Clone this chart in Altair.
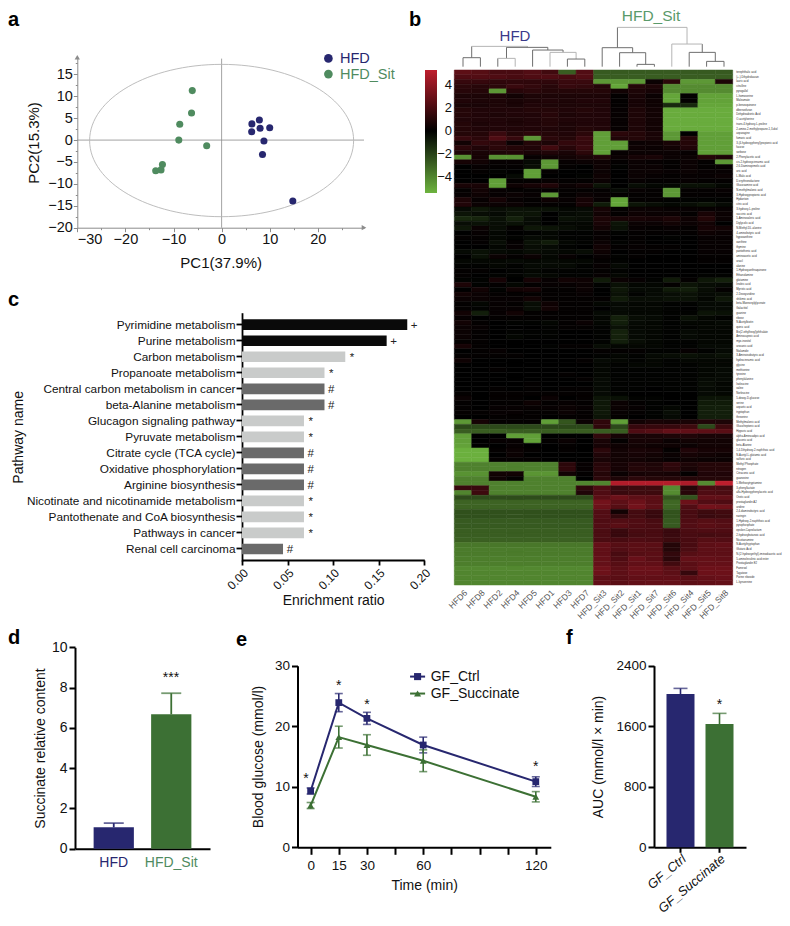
import altair as alt
import pandas as pd

FONT = "Liberation Sans"
NAVY = "#27276f"
GREEN_D = "#3c7034"
W, H = 774, 910

# ---------- panel a ----------
A_HFD_X = [6.3, 7.85, 8.0, 10.0, 6.25, 8.8, 8.5, 14.8]
A_HFD_Y = [3.7, 4.6, 2.7, 2.8, 1.9, -0.2, -3.3, -13.9]
A_SIT_X = [-6.1, -6.25, -8.7, -8.9, -3.1, -12.3, -12.6, -13.7]
A_SIT_Y = [11.3, 6.2, 3.6, 0.0, -1.3, -5.6, -6.8, -7.0]

# ---------- panel b ----------
COLS = ["HFD6", "HFD8", "HFD2", "HFD4", "HFD5", "HFD1", "HFD3", "HFD7",
        "HFD_Sit3", "HFD_Sit2", "HFD_Sit1", "HFD_Sit7", "HFD_Sit6", "HFD_Sit4", "HFD_Sit5", "HFD_Sit8"]
BAR_TICKS = [-4, -2, 0, 2, 4]
ROWS = ["terephthalic acid", "(+-)-Dihydrokavain", "lauric acid", "citrulline", "pyrogallol", "L-homoserine",
        "Maleamate", "p-benzoquinone", "dibenzofuran", "Dehydroabietic Acid", "O-acetylserine",
        "trans-4-hydroxy-L-proline", "2-amino-2-methylpropane-1,3-diol", "asparagine", "fumaric acid",
        "3-(4-hydroxyphenyl)propionic acid", "fucose", "sorbose", "2-Phenylacetic acid",
        "cis-2-hydroxycinnamic acid", "2,6-Diaminopimelic acid", "uric acid", "L-Malic acid",
        "D-erythronolactone", "Glucosamine acid", "N-methylmalonic acid", "3-Hydroxypropionic acid",
        "Hydantoin", "citric acid", "3-hydroxy-L-proline", "succinic acid", "5-Aminovaleric acid",
        "Diglycolic acid", "N-Methyl-DL-alanine", "4-aminobutyric acid", "hypoxanthine", "xanthine", "thymine",
        "pantothenic acid", "aminoacetic acid", "uracil", "alanine", "1-Hydroxyanthraquinone", "Ethanolamine",
        "glutamine", "linoleic acid", "Myristic acid", "2-Deoxyuridine", "shikimic acid",
        "beta-Mannosylglycerate", "Galactitol", "guanine", "ribose", "N-Acetylbiotin", "quinic acid",
        "Bis(2-ethylhexyl)phthalate", "Aminocaproic acid", "myo-inositol", "urocanic acid", "Nialamide",
        "3-Aminoisobutyric acid", "hydrocinnamic acid", "glycine", "methionine", "tyrosine", "phenylalanine",
        "Isoleucine", "valine", "Norleucine", "5-deoxy-D-glucose", "serine", "aspartic acid", "tryptophan",
        "threonine", "Methylmalonic acid", "Glucoheptonic acid", "Hippuric acid", "alpha-Aminoadipic acid",
        "gluconic acid", "beta-Alanine", "1,4-Dihydroxy-2-naphthoic acid", "N-Acetyl-L-glutamic acid",
        "sulfuric acid", "Methyl Phosphate", "nitrogen", "Citraconic acid", "guanosine", "5-Methoxytryptamine",
        "3-phenyllactate", "alfa-Hydroxyphenylacetic acid", "Orotic acid", "prostaglandin A2", "uridine",
        "2,4-diaminobutyric acid", "naringin", "1-Hydroxy-2-naphthoic acid", "pyrophosphate",
        "epsilon-Caprolactam", "2-hydroxybutanoic acid", "Nicotianamine", "N-Acetyltryptophan", "Glutaric Acid",
        "N-(2-hydroxyethyl)-iminodiacetic acid", "5-aminolevulinic acid ester", "Prostaglandin E2", "Farnesol",
        "Tagatose", "Purine riboside", "L-kynurenine"]
HEAT = [
    [2.6, 2.4, 2, 2, 2.3, 1.8, -2.8, 2.3, -2.7, -2.7, -2.7, -2.7, -2.7, -2.7, -2.7, -2.7],
    [2.2, 2.3, 2.2, 2, 2.2, 2.2, 2, 2.3, -2.8, -2.8, -2.8, -2.8, -2.8, -2.8, -2.8, -2.8],
    [1.5, 1.5, 1.3, 1.3, 1.3, 1.3, 1.6, 1.6, -4.6, -4.6, -4.6, 0.3, 1.2, -4.6, -4.6, 0.8],
    [1.2, 1.1, 1.2, 1.6, 1.4, 1.1, 1.5, 1.4, 1, -5, 1, 0.8, -4.2, -4.2, -4.2, -4.2],
    [1.1, 1, -4.6, 1.1, 1.2, 1, 1, 1, 1, 0.5, 0.8, 0.6, -4.2, -4.2, -4.2, -4.2],
    [0.8, 0.8, 0.8, 0.5, 0.8, 0.8, 0.8, 0.8, 0.8, 0.1, 0.7, 0.3, -5, 0.1, -4.9, -4.9],
    [0.9, 0.8, 0.8, 0.7, 0.8, 0.9, 0.8, 0.9, 0.9, 0.1, 0.6, 0.4, -5, 0.1, -4.9, -4.9],
    [0.7, 0.7, 0.8, 0.7, 0.9, 0.8, 0.8, 0.8, 0.8, 0.1, 0.6, 0.4, -1.2, -1.2, -5, -5],
    [1, 0.9, 0.9, 0.9, 1, 1, 0.9, 1, 0.9, 0.2, 0.8, 0.5, -5.2, -5.2, -5.2, -5.2],
    [1, 0.9, 0.8, 0.9, 0.9, 1.1, 0.8, 0.9, 0.9, 0.2, 0.8, 0.5, -5.2, -5.2, -5.2, -5.2],
    [0.9, 0.9, 0.9, 0.8, 0.9, 1, 0.9, 0.9, 0.9, 0.2, 0.8, 0.5, -5.2, -5.2, -5.2, -5.2],
    [1, 0.8, 0.9, 0.8, 0.9, 1, 0.8, 0.9, 0.9, 0.2, 0.8, 0.5, -5.2, -5.2, -5.2, -5.2],
    [1, 0.9, 0.9, 0.9, 0.9, 0.9, 0.8, 1, 0.9, 0.2, 0.8, 0.5, -5.2, -5.2, -5.2, -5.2],
    [1, 1, 1.6, 1, 1.2, 1, 0.9, 1.2, -4.8, 1.2, 1, 0.7, -4.6, 0, -4.8, -4.8],
    [1.5, 1.2, 2.2, 1.5, -4.6, 1.2, 1, 1.6, -4.8, 0.9, 1, 0.7, -4.6, 1, -4.8, -4.8],
    [0.5, 1.4, 1.2, 0.3, 1, 0.8, 1.4, 1.5, -4.8, -4.8, 0.3, 0.4, 0.7, 1, -4.8, -4.8],
    [1.2, 0.9, 1.2, 1, 0.9, 1.8, 1.1, 1.6, -4.8, -4.8, 0.4, 0.3, 0.5, 0.9, -4.8, -4.8],
    [0.8, 0.7, 0.8, 0.9, 0.7, 0.9, 0.7, 1.2, -4.8, 0.2, 0.3, 0.3, 0.3, 0.2, -4.8, -4.8],
    [-4.4, 0.6, -4.4, -4.4, 0.2, 0.4, 0.5, 0.7, 0.9, 0.3, 0.6, 0.7, 0.3, 0.3, 1, 0.8],
    [0.6, 0.5, 0.2, 0.2, -0.3, -4.6, 0.2, 0.3, 0.4, 0.1, 0.3, 0.2, 0.1, 0.3, 0.1, -4.6],
    [0, 0.2, 0.1, 0.1, -0.4, -4.6, 0.1, 0, 0.4, -0.1, 0.3, 0.3, 0.1, 0.3, 0.1, 0.2],
    [0, 0.1, -0.1, 0, -4.8, 0.1, 0, 0, 0.3, 0, 0.3, 0.3, 0.2, 0.3, 0.2, 0.2],
    [0, 0, 0, -0.3, -4.8, 0, 0, -0.1, 0.4, 0, 0.3, 0.2, 0.1, 0.2, 0.2, 0.3],
    [0, 0, -4.8, 0.1, 0.1, 0.2, 0.1, 0.1, 0.3, 0, 0.2, 0.1, 0.1, 0.2, 0.1, 0.1],
    [0.7, 0.7, -4.8, 0.4, 0.6, 0.9, 0.3, 0.5, -0.6, 0, -0.4, -0.2, -0.2, -0.5, -0.5, -0.2],
    [0.1, 0.5, 0.2, 0.1, 0.1, 0.1, 0.1, 0.1, 0.1, -0.3, 0.2, 0.1, -4.6, 0.1, 0.1, 0.2],
    [0.2, 0.4, 0.2, 0.3, 0.2, -4.6, 0.1, 0.3, 0.2, 0.1, 0.1, 0.1, -4.6, 0.1, 0.1, 0.1],
    [0.8, 0.2, 0.6, 0.2, 0.1, 0.4, 0.2, 0.6, 0.2, -5, 0.1, 0.1, -0.1, -0.1, -0.1, -0.1],
    [0.9, 0.3, 0.3, 0.3, 0.1, 0.1, 0.1, 0.6, -0.8, -5, -0.6, -0.4, -0.2, -0.4, -0.6, -0.3],
    [-0.3, -0.7, -0.4, -0.5, -0.5, -0.5, -0.2, -0.3, 0.6, 0.1, 0.3, 0.3, 0.2, 0.2, 0.2, 0.2],
    [-0.6, -0.4, -0.3, -0.6, -0.6, 0, -0.3, -0.4, 0.5, 0.1, 0.4, 0.3, 0.3, 0.1, 0.7, 0.3],
    [-1.2, -1.1, -0.5, -1, -0.4, 0, -0.5, -0.4, 0.8, 0.7, 0.7, 0.6, 0.8, 0.4, 1, 0.3],
    [-0.4, -0.5, -0.4, -0.5, -0.3, 0, -0.2, -0.2, 0.7, -0.6, 0.3, 0.3, 0.5, 0.3, 0.5, 0],
    [-0.7, 0.3, -0.4, 0.1, -0.7, -0.6, -0.4, -0.2, 0.5, -0.5, 0.2, 0.1, 0.2, 0.1, 0.6, 0.5],
    [0, 0.2, -0.2, 0, -0.1, -0.2, -0.1, -0.1, 0.2, -0.1, 0.1, 0.1, 0.1, 0.1, 0.4, 0.3],
    [0.1, 0.1, -0.2, -0.1, -0.3, -0.2, -0.1, -0.1, 0.2, 0, 0.1, 0, -0.1, 0, 0.2, 0.2],
    [0, 0.1, -0.4, 0.1, -0.5, -0.8, -0.2, -0.1, 0.3, -0.1, 0.1, 0, 0, 0, 0.2, 0.2],
    [0, 0, -0.2, 0.2, -0.4, -0.3, -0.1, 0, 0.5, 0.1, 0.2, 0.1, 0.1, 0, 0.2, 0.2],
    [-0.3, -0.5, -0.3, -0.2, -0.4, -0.3, -0.2, -0.4, 0.4, 0, 0.1, 0.1, 0, 0, 0.2, 0.2],
    [0, -0.5, 0.3, 0.1, 0.3, -0.2, 0.2, 0, 0.2, -0.1, 0.1, 0, 0, 0, 0.1, 0.1],
    [-0.2, -0.2, -0.2, -0.3, -0.2, -0.3, -0.2, -0.2, 0.1, -0.1, 0, 0, 0, 0, 0.1, 0.1],
    [-0.1, -0.1, -0.2, -0.1, -0.3, -0.3, -0.3, -0.1, 0.2, -0.3, 0, 0, 0, 0, 0, 0],
    [0.1, 0.1, 0, -0.1, -0.2, -0.1, -0.1, -0.1, 0.1, -0.1, 0, 0, 0, 0, 0, 0],
    [0.1, 0, -0.1, -0.1, -0.3, -0.2, -0.1, -0.1, 0.2, -0.2, 0, 0, 0, 0, -0.1, -0.1],
    [-0.1, -0.1, 0.6, 0, 0.6, 0.2, 0.5, 0.4, -0.8, 0.3, 0.2, -0.1, -0.8, 0.1, -0.7, -1],
    [0.8, -0.1, 0.1, -0.2, 0.1, 0.2, 0.2, 0.3, -0.1, -0.5, -0.2, -0.2, 0.1, -0.6, -0.4, -0.3],
    [0, 0.5, -0.1, 0.5, 0.6, 0.1, 0.1, 0.3, 0, -0.7, -0.3, -0.3, -0.8, -0.9, -0.4, 0.1],
    [0.5, 0.3, 0.1, 0.1, 0.1, 0.1, 0.1, 0.2, 0, -0.5, -0.1, -0.3, -0.4, -0.5, -0.3, -0.4],
    [0.3, 0.3, 0.2, 0.2, 0.5, 0.1, 0.1, 0.1, 0.1, -0.8, -0.4, -0.4, -0.5, -0.5, -0.2, -0.7],
    [0.1, -0.2, 0.2, 0.1, -0.4, 0.4, 0.1, 0.1, -0.2, -0.3, -0.2, -0.2, -0.1, -0.1, -0.3, -0.3],
    [0.1, -0.1, 0.2, 0.2, -0.4, 0.5, 0.1, 0.1, 0, -0.3, -0.2, -0.2, -0.1, 0, -0.3, -0.3],
    [0.5, -0.9, 0.2, 0.5, 0.1, 0.1, 0.1, 0.1, -0.3, -0.3, -0.2, -0.2, -0.1, -0.1, -0.6, -0.5],
    [0.2, 0, 0.1, 0.1, 0.1, 0.1, 0.1, 0.1, -0.2, -1, -0.4, -0.3, -0.1, -0.5, -0.2, -0.1],
    [0.5, 0.1, 0, -0.1, -0.1, -0.2, 0.1, 0.3, -0.2, -0.9, -0.3, -0.2, -0.1, -0.2, -0.2, -0.3],
    [0.3, 0.2, 0, 0, 0, -0.1, 0.1, 0.1, -0.1, -0.5, -0.2, -0.2, -0.1, -0.1, -0.2, -0.2],
    [0.3, 0.1, 0, -0.1, -0.1, -0.1, 0, 0, -0.1, -1, -0.3, -0.2, -0.1, -0.3, -0.2, -0.2],
    [0.3, 0.1, 0, -0.2, -0.1, -0.1, 0, 0, -0.1, -1, -0.3, -0.2, -0.1, -0.3, -0.2, -0.2],
    [0.1, 0.1, 0, 0, 0, 0, 0, 0, -0.1, -0.9, -0.4, -0.2, -0.1, -0.1, -0.2, -0.2],
    [0.6, 0.1, 0, 0, 0, -0.1, 0.1, 0.1, -0.4, -0.2, -0.2, -0.2, -0.1, -0.1, -0.3, -0.3],
    [0, 0.1, 0.2, 0, 0, 0, 0, 0, 0.1, 0.1, 0.1, -0.1, -0.1, 0.2, -0.1, -0.3],
    [0.1, 0.1, 0.1, 0.1, 0, 0, 0, 0, -0.1, -0.2, -0.1, -0.3, -0.4, -0.5, -0.4, -0.5],
    [0.4, 0, 0, 0, 0, 0, 0, 0.1, -0.3, -0.2, -0.1, -0.2, -0.1, -0.2, -0.2, -0.2],
    [0, 0, 0, 0, 0, 0, 0, 0, -0.2, -0.1, -0.2, -0.2, -0.1, -0.1, -0.2, -0.2],
    [0, 0, 0.1, 0, 0, 0, 0, 0, -0.2, -0.1, -0.1, -0.1, -0.1, -0.1, -0.2, -0.3],
    [0, 0, 0, 0, 0, 0, 0.1, 0, -0.2, -0.1, -0.1, -0.1, -0.1, -0.1, -0.2, -0.3],
    [0, 0, 0, 0, 0, 0, 0, 0.1, -0.3, -0.1, -0.1, -0.1, -0.1, -0.1, -0.3, -0.3],
    [0, 0, 0, 0, 0.1, 0, 0, 0, -0.3, -0.1, -0.1, -0.1, -0.1, -0.1, -0.4, -0.2],
    [0, 0, 0.1, 0, 0.1, 0, 0.1, 0.1, -0.3, -0.1, -0.1, 0, -0.1, -0.1, -0.3, -0.2],
    [0.1, 0, 0.1, 0.1, 0.1, 0.1, 0.1, 0.1, -0.3, -0.1, 0, 0, 0, 0, -0.3, -0.2],
    [0.3, 0, 0.1, 0.1, 0, 0.3, 0, 0.1, -0.6, -0.5, -0.1, -0.1, 0, 0, -0.6, -0.6],
    [0.1, 0, 0.1, 0.1, 0.4, 0.1, 0.2, 0.1, -0.7, 0.3, 0.1, -0.1, 0, 0, -0.8, -0.8],
    [0.1, 0, 0.2, 0.2, 0.2, 0.2, 0.3, 0.2, -0.7, 0.3, 0.2, -0.1, -0.2, 0, -0.9, -0.9],
    [0.1, 0.1, 0.2, 0.2, 0.1, 0.1, 0.3, 0.1, -0.7, 0.2, 0.1, -0.1, -0.4, 0, -0.9, -0.9],
    [0, 0, 0.1, 0.1, 0.1, 0, 0.1, 0.1, -0.6, 0.1, 0, -0.1, -0.3, 0, -0.9, -0.9],
    [-4.6, 0.6, 0.1, 0.1, 0.1, -4.8, -2.6, 0.3, 1.3, -4.8, 0.5, 0.7, 0.6, 0.7, 0.9, 0.8],
    [-2.2, -2.2, -2.2, -2.2, -2.2, -2.2, -2.2, -2.2, 1.3, -2.2, 1.5, 1.5, 1.5, 1.7, -2.2, 1.7],
    [-2.8, -2.8, -2.8, -2.8, -2.8, -2.8, -2.8, -2.8, -2.8, -2.8, 2.2, 2.4, 2.8, 2.7, 2.6, 2.5],
    [-4.8, 0, 0, -4.8, -4.8, 0, 0, 0, 1.4, 0.6, 0.7, 0.7, 0.8, 0.9, 0.7, 0.7],
    [-4.8, 0, 0.2, 0.2, -4.9, 0.1, 0.3, 0, 0.7, 0.1, 0.6, 0.6, 0.3, 0.5, 0.5, 0.5],
    [-4.9, 0, 0, 0.2, 0, 0, 0.1, 0, 0.6, 0.4, 0.5, 0.4, 0.4, 0.3, 0.5, 0.5],
    [-5.3, -5.3, 0.1, 0.3, 0.1, 0, 0.1, 0, 1.2, 0.5, 0.7, 0.6, 0.1, 0.9, 0.6, 0.6],
    [-5.3, -5.3, 0, 0.3, 0, 0, 0, 0, 0.9, 0.5, 0.6, 0.5, 0.3, 0.6, 0.5, 0.4],
    [-5.3, -5.3, 0.1, 0.1, 0.1, 0, 0, 0, 0.7, 0.5, 0.5, 0.4, 0.2, 0.4, 0.3, 0.3],
    [-3.9, -3.9, -3.9, -3.9, -3.9, -3.9, 1.2, 0.2, 1.1, 0.6, 0.9, 0.8, 1.3, 0.8, 1, 1],
    [-3.9, -3.9, -3.9, -3.9, -3.9, -3.9, 1.3, 0.2, 1.2, 0.6, 1, 0.9, 1.2, 0.7, 1, 1],
    [-4.4, -4.4, 0.5, 0.5, -4.5, -4.5, 0.5, 0.1, 1, 0.3, 0.6, 0.7, 0.6, 0.1, 0.9, 0.9],
    [-3.9, -3.9, 0.4, 0.1, -3.9, -3.9, -3.9, 0, 1.2, 0.8, 1.2, 1, 1, 1, 1, 1],
    [-3.9, -3.9, -3.9, -3.9, -3.9, -3.9, -3.9, -4, -4, 5, 5, 5, 5, 4.8, -4.2, 5.3],
    [1.6, 1.6, -3.9, -3.9, -3.9, -3.9, -3.9, 1.3, 2.2, 1.6, 1.7, 1.7, -4.2, 1, 2, 2],
    [-4, 1.7, -3.9, -3.9, -3.9, -3.9, -3.9, 0.9, 2.2, 1.6, 1.7, 1.7, -4.2, 1.1, 2.2, 2.1],
    [-2.3, -2.3, -2.3, -2.3, -2.3, -2.3, -2.3, -2.3, 2.5, 3, 2.6, 2.5, -2.6, -2.5, 2.7, 2.7],
    [-3, -3, -3, -3, -3, -3, -3, -3, 3.2, 2.6, 3, 2.5, -3.1, 3, 2.3, 2.2],
    [-3, -3, -3, -3, -3, -3, -3, -3, 3, 2.4, 3.2, 2.6, -3.1, 2.3, 3.2, 3.1],
    [-2.4, -2.4, -2.4, -2.4, -2.4, -2.4, -2.4, -2.4, 2.3, 0.5, 1.9, 1.6, -2.5, 2, 1.7, 1.8],
    [-2.4, -2.4, -2.4, -2.4, -2.4, -2.4, -2.4, -2.4, 2.3, 1.4, 1.9, 1.5, -2.5, 2, 1.6, 1.7],
    [-2.7, -2.7, -2.7, -2.7, -2.7, -2.7, -2.7, -2.7, 2.2, 2.3, 2.2, 2, -2.7, 2.2, 2.4, 2.3],
    [-2.7, -2.7, -2.7, -2.7, -2.7, -2.7, -2.7, -2.7, 2.3, 2.5, 2.2, 2.1, -2.7, 2.3, 2.5, 2.4],
    [-2.8, -2.8, -2.8, -2.8, -2.8, -2.8, -2.8, -2.8, 2.1, 1.6, 2, 2, 1.6, 2.1, 2.2, 2.2],
    [-2.8, -2.8, -2.8, -2.8, -2.8, -2.8, -2.8, -2.8, 2.1, 1.5, 1.9, 2, 1.6, 2, 1.9, 2],
    [-2.9, -2.9, -2.9, -2.9, -2.9, -2.9, -2.9, -2.9, 2.1, 2, 2.2, 2.1, 1.7, 2, 2.4, 2.3],
    [-3.6, -3.6, -3.6, -3.6, -3.6, -3.6, -3.6, -3.6, 2.8, 2.4, 2.5, 2.5, 1, 2, 2.6, 2.7],
    [-3.7, -3.7, -3.7, -3.7, -3.7, -3.7, -3.7, -3.7, 2.7, 2.3, 2.5, 2.4, 1, 2.1, 2.6, 2.6],
    [-3.7, -3.7, -3.7, -3.7, -3.7, -3.7, -3.7, -3.7, 2.7, 2, 2.4, 2.5, 1.4, 2.4, 2.6, 2.6],
    [-3.8, -3.8, -3.8, -3.8, -3.8, -3.8, -3.8, -3.8, 2.8, 2.2, 2.9, 2.5, 1.2, 2.8, 2.8, 2.7],
    [-3.8, -3.8, -3.8, -3.8, -3.8, -3.8, -3.8, -3.8, 2.8, 2.4, 2.7, 2.7, 1.8, 2.5, 2.8, 2.8],
    [-4.1, -4.1, -4.1, -4.1, -4.1, -4.1, -4.1, -4.1, 3.1, 2.6, 3, 3, 2.5, 2.6, 3, 3],
    [-4, -4, -4, -4, -4, -4, -4, -4, 3, 2.6, 2.9, 2.9, 2.6, 1.5, 3, 3],
    [-4, -4, -4, -4, -4, -4, -4, -4, 2.6, 2.5, 2.7, 2.7, 2.7, 2.5, 2.8, 2.9],
    [-4, -4, -4, -4, -4, -4, -4, -4, 2.7, 2.5, 2.7, 2.8, 2.8, 2.6, 2.7, 2.8],
]
# dendrogram: horizontal joins (column units, height) and vertical legs
DEN_H = [(0.5, 1.5, 27, "d"), (2.5, 3.5, 25, "l"), (6.5, 7.5, 23, "d"), (5.5, 7, 43, "l"), (4.5, 6.25, 50, "d"),
         (3, 5.375, 58, "d"), (1, 4.19, 61, "l"), (10.5, 11.5, 7, "d"), (9.5, 11, 42, "d"), (8.5, 10.25, 57, "d"),
         (14.5, 15.5, 16, "d"), (13.5, 15, 43, "d"), (12.5, 14.25, 68, "l"), (9.375, 13.375, 118, "l")]
DEN_V = [(0.5, 0, 27, "d"), (1.5, 0, 27, "d"), (2.5, 0, 25, "d"), (3.5, 0, 25, "l"), (6.5, 0, 23, "d"), (7.5, 0, 23, "d"),
         (5.5, 0, 43, "l"), (7, 23, 43, "l"), (4.5, 0, 50, "d"), (6.25, 43, 50, "d"), (3, 25, 58, "d"), (5.375, 50, 58, "d"),
         (1, 27, 61, "d"), (4.19, 58, 61, "d"), (10.5, 0, 7, "d"), (11.5, 0, 7, "d"), (9.5, 0, 42, "d"), (11, 7, 42, "d"),
         (8.5, 0, 57, "d"), (10.25, 42, 57, "d"), (14.5, 0, 16, "d"), (15.5, 0, 16, "d"), (13.5, 0, 43, "d"), (15, 16, 43, "d"),
         (12.5, 0, 68, "l"), (14.25, 43, 68, "d"), (9.375, 57, 118, "d"), (13.375, 68, 118, "l")]

# ---------- panel c ----------
PATHWAYS = ["Pyrimidine metabolism", "Purine metabolism", "Carbon metabolism", "Propanoate metabolism",
            "Central carbon metabolism in cancer", "beta-Alanine metabolism", "Glucagon signaling pathway",
            "Pyruvate metabolism", "Citrate cycle (TCA cycle)", "Oxidative phosphorylation", "Arginine biosynthesis",
            "Nicotinate and nicotinamide metabolism", "Pantothenate and CoA biosynthesis", "Pathways in cancer",
            "Renal cell carcinoma"]
RATIO = [0.1813, 0.1587, 0.1133, 0.0905, 0.0905, 0.0905, 0.068, 0.068, 0.068, 0.068, 0.068, 0.068, 0.068, 0.068, 0.045]
MARK = ["+", "+", "*", "*", "#", "#", "*", "*", "#", "#", "#", "*", "*", "*", "#"]

# ---------- panel d ----------
D_GROUPS = ["HFD", "HFD_Sit"]
D_MEAN = [1.06, 6.67]
D_TOP = [1.27, 7.72]

# ---------- panel e ----------
E_T = [0, 15, 30, 60, 120]
E_CTRL = [9.3, 23.9, 21.3, 16.9, 10.85]
E_CTRL_ERR = [0.5, 1.5, 1.0, 1.3, 0.8]
E_SUCC = [6.9, 18.2, 16.9, 14.3, 8.35]
E_SUCC_ERR = [0.5, 1.8, 1.7, 1.8, 0.85]
E_STAR_T = [-2.5, 15, 30, 120]
E_STAR_Y = [11.7, 27.2, 24.0, 13.7]

# ---------- panel f ----------
F_GROUPS = ["GF_Ctrl", "GF_Succinate"]
F_MEAN = [2025, 1629]
F_TOP = [2100, 1770]


def X(v):
    return v - 8


def lin(dom, r0, r1):
    return alt.Scale(domain=dom, range=[r0 - 8, r1 - 8], nice=False, zero=False)


def off_left(x):
    return -(x - 8)


def off_bottom(y):
    return (y - 8) - H


def text(s, x, y, size=14, color="black", align="center", weight="normal", angle=None, baseline="middle"):
    kw = dict(text=s, fontSize=size, color=color, align=align, fontWeight=weight, baseline=baseline, font=FONT)
    if angle is not None:
        kw["angle"] = angle
    return alt.Chart(alt.Data(values=[{"a": 1}])).mark_text(**kw).encode(x=alt.value(X(x)), y=alt.value(y - 8))


layers = []

# ===== Panel a =====
ax_sx = [-30, 29.6]
ay_sy = [-20, 18.9]
asx = lin(ax_sx, 77.3, 364)
asy = lin(ay_sy, 227.7, 57.3)
GREY = "#8c8c8c"
a_h = pd.DataFrame({"x": [-30], "x2": [29.6], "y": [0]})
a_v = pd.DataFrame({"x": [0], "y": [-20], "y2": [18.6]})
layers.append(alt.Chart(a_h).mark_rule(color=GREY, strokeWidth=0.8).encode(
    x=alt.X("x:Q", scale=asx, axis=None), x2="x2:Q", y=alt.Y("y:Q", scale=asy, axis=None)))
layers.append(alt.Chart(a_v).mark_rule(color=GREY, strokeWidth=0.8).encode(
    x=alt.X("x:Q", scale=asx, axis=None), y=alt.Y("y:Q", scale=asy, axis=None), y2="y2:Q"))
# axes
layers.append(alt.Chart(pd.DataFrame({"x": [0], "y": [0]})).mark_point(opacity=0).encode(
    x=alt.X("x:Q", scale=asx, axis=alt.Axis(orient="bottom", offset=off_bottom(227.7), values=[-30, -20, -10, 0, 10, 20],
            title="PC1(37.9%)", titleFontSize=15, titleFontWeight="normal", labelFontSize=14.5, grid=False,
            domainColor=GREY, tickColor=GREY, tickSize=4, labelPadding=1, titlePadding=9, titleColor="#111", labelColor="#111",
            format="d")),
    y=alt.Y("y:Q", scale=asy, axis=alt.Axis(orient="left", offset=off_left(77.3), values=[-20, -15, -10, -5, 0, 5, 10, 15],
            title="PC2(15.3%)", titleFontSize=15, titleFontWeight="normal", labelFontSize=14.5, grid=False,
            domainColor=GREY, tickColor=GREY, tickSize=4, labelPadding=1, titlePadding=6, titleColor="#111", labelColor="#111",
            format="d"))))
# minor ticks
layers.append(alt.Chart(pd.DataFrame({"x": [0], "y": [0]})).mark_point(opacity=0).encode(
    x=alt.X("x:Q", scale=asx, axis=alt.Axis(orient="bottom", offset=off_bottom(227.7), values=[-25, -15, -5, 5, 15, 25],
            title=None, labels=False, domain=False, tickColor=GREY, tickSize=2, grid=False)),
    y=alt.Y("y:Q", scale=asy, axis=alt.Axis(orient="left", offset=off_left(77.3),
            values=[-17.5, -12.5, -7.5, -2.5, 2.5, 7.5, 12.5, 17.5],
            title=None, labels=False, domain=False, tickColor=GREY, tickSize=2, grid=False))))
# axis arrows
layers.append(alt.Chart(pd.DataFrame({"x": [29.6], "y": [-20]})).mark_point(
    shape="triangle-right", filled=True, color=GREY, size=28, opacity=1).encode(
    x=alt.X("x:Q", scale=asx, axis=None), y=alt.Y("y:Q", scale=asy, axis=None)))
layers.append(alt.Chart(pd.DataFrame({"x": [-30], "y": [18.9]})).mark_point(
    shape="triangle-up", filled=True, color=GREY, size=28, opacity=1).encode(
    x=alt.X("x:Q", scale=asx, axis=None), y=alt.Y("y:Q", scale=asy, axis=None)))
# confidence ellipse
layers.append(alt.Chart(pd.DataFrame({"x": [0], "y": [-0.1]})).mark_point(
    shape="M-1,0A1,0.577 0 1,1 1,0A1,0.577 0 1,1 -1,0Z", filled=False, stroke="#b5b5b5", strokeWidth=0.9,
    size=69696, opacity=1).encode(
    x=alt.X("x:Q", scale=asx, axis=None), y=alt.Y("y:Q", scale=asy, axis=None)))
for xs, ys, c in [(A_HFD_X, A_HFD_Y, "#27276f"), (A_SIT_X, A_SIT_Y, "#4f8b5f")]:
    layers.append(alt.Chart(pd.DataFrame({"x": xs, "y": ys})).mark_circle(color=c, size=50, opacity=1).encode(
        x=alt.X("x:Q", scale=asx, axis=None), y=alt.Y("y:Q", scale=asy, axis=None)))
layers.append(alt.Chart(pd.DataFrame({"x": [22.2], "y": [18.65]})).mark_circle(color="#27276f", size=75, opacity=1).encode(
    x=alt.X("x:Q", scale=asx, axis=None), y=alt.Y("y:Q", scale=asy, axis=None)))
layers.append(alt.Chart(pd.DataFrame({"x": [22.2], "y": [15.07]})).mark_circle(color="#4f8b5f", size=75, opacity=1).encode(
    x=alt.X("x:Q", scale=asx, axis=None), y=alt.Y("y:Q", scale=asy, axis=None)))
layers.append(text("HFD", 340, 58.5, 14.5, "#27276f", "left"))
layers.append(text("HFD_Sit", 340, 75, 14.5, "#4f8b5f", "left"))

# ===== Panel b =====
heat_df = pd.DataFrame([
    {"row": r, "col": c, "v": HEAT[i][j]} for i, r in enumerate(ROWS) for j, c in enumerate(COLS)
])
heat_scale = alt.Scale(domain=[-5.4, 0, 5.3], range=["#6DB33F", "#000000", "#BE1E2D"], interpolate="rgb")
layers.append(alt.Chart(heat_df).mark_rect(strokeWidth=0.5).encode(
    x=alt.X("col:N", scale=alt.Scale(type="band", domain=COLS, range=[454.3 - 8, 732.7 - 8], paddingInner=0, paddingOuter=0),
            axis=alt.Axis(orient="bottom", offset=off_bottom(585), title=None, labelAngle=-45, labelFontSize=8.5, labelColor="#555",
                          ticks=False, domain=False, labelPadding=3, grid=False, labelOverlap=False)),
    y=alt.Y("row:N", scale=alt.Scale(type="band", domain=ROWS, range=[70 - 8, 585 - 8], paddingInner=0, paddingOuter=0),
            axis=alt.Axis(orient="right", offset=(732.7 - 8) - W, title=None, labelFontSize=2.75, labelColor="#333",
                          ticks=False, domain=False, labelPadding=3, grid=False, labelOverlap=False, labelLimit=120)),
    stroke=alt.Stroke("v:Q", scale=heat_scale, legend=None),
    fill=alt.Fill("v:Q", scale=heat_scale, legend=None)))
# colour bar of the heat map (the layer itself draws nothing)
layers.append(alt.Chart(pd.DataFrame({"v": BAR_TICKS})).mark_rect().encode(
    x=alt.value(0), x2=alt.value(0), y=alt.value(0), y2=alt.value(0),
    color=alt.Color("v:Q", scale=heat_scale,
                    legend=alt.Legend(orient="none", legendX=425 - 8, legendY=70 - 8, direction="vertical", title=None,
                                      gradientLength=123, gradientThickness=12, values=BAR_TICKS,
                                      labelOpacity=0, labelFontSize=13, padding=0))))
layers.append(alt.Chart(pd.DataFrame({"v": BAR_TICKS})).mark_text(align="right", fontSize=13, font=FONT, color="#111").encode(
    x=alt.value(452 - 8), y=alt.Y("v:Q", scale=lin([-5.4, 5.3], 193, 70), axis=None), text=alt.Text("v:Q", format="d")))
dsx = lin([0, 16], 454.3, 732.7)
dsy = lin([0, 120], 66.7, 26.7)
den_h = pd.DataFrame(DEN_H, columns=["a", "b", "h", "s"])
den_v = pd.DataFrame(DEN_V, columns=["x", "h0", "h1", "s"])
shade = alt.Color("s:N", scale=alt.Scale(domain=["d", "l"], range=["#6e6e6e", "#b4b4b4"]), legend=None)
layers.append(alt.Chart(den_v).mark_rule(strokeWidth=1).encode(
    x=alt.X("x:Q", scale=dsx, axis=None), y=alt.Y("h0:Q", scale=dsy, axis=None), y2="h1:Q", color=shade))
layers.append(alt.Chart(den_h).mark_rule(strokeWidth=1).encode(
    x=alt.X("a:Q", scale=dsx, axis=None), x2="b:Q", y=alt.Y("h:Q", scale=dsy, axis=None), color=shade))
layers.append(text("HFD", 515, 36, 15, "#3a3a8a"))
layers.append(text("HFD_Sit", 651, 16, 15.5, "#5a9a6a"))

# ===== Panel c =====
c_df = pd.DataFrame({"p": PATHWAYS, "r": RATIO, "m": MARK, "rt": [v + 0.0075 for v in RATIO]})
c_df["kind"] = ["k", "k", "l", "l", "g", "g", "l", "l", "g", "g", "g", "l", "l", "l", "g"]
csy = alt.Scale(type="band", domain=PATHWAYS, range=[312.7 - 8, 561 - 8], paddingInner=0.333, paddingOuter=0.4165)
csx = lin([0, 0.2], 242, 424.3)
layers.append(alt.Chart(c_df).mark_bar(opacity=1).encode(
    y=alt.Y("p:N", scale=csy, axis=alt.Axis(orient="left", offset=off_left(242), title="Pathway name", titleFontSize=14, titleX=-217,
            titleFontWeight="normal", labelFontSize=11.8, labelColor="#111", titleColor="#111", labelLimit=300, grid=False,
            domainColor="black", domainWidth=1.8, tickColor="black", tickWidth=1.8, tickSize=6, labelPadding=1,
            labelOverlap=False)),
    x=alt.X("r:Q", scale=csx, axis=alt.Axis(orient="bottom", offset=off_bottom(560), values=[0, 0.05, 0.1, 0.15, 0.2],
            format=".2f", title="Enrichment ratio", titleFontSize=14, titleFontWeight="normal", labelFontSize=12,
            labelAngle=-45, labelColor="#111", titleColor="#111", grid=False, domainColor="black", domainWidth=1.8,
            tickColor="black", tickWidth=1.8, tickSize=5, labelPadding=2, titlePadding=2)),
    color=alt.Color("kind:N", scale=alt.Scale(domain=["k", "l", "g"], range=["#0a0a0a", "#c9cbca", "#6a6a6a"]), legend=None)))
layers.append(alt.Chart(c_df).mark_text(fontSize=11.5, font=FONT, color="#222", dy=1).encode(
    x=alt.X("rt:Q", scale=csx, axis=None), y=alt.Y("p:N", scale=csy, axis=None), text="m:N"))

# ===== Panel d =====
AXK = dict(grid=False, domainColor="black", domainWidth=2, tickColor="black", tickWidth=2, titleFontWeight="normal",
           titleColor="#111", labelColor="#111")
d_df = pd.DataFrame({"g": D_GROUPS, "m": D_MEAN, "t": D_TOP})
dx = alt.Scale(type="band", domain=D_GROUPS, range=[75 - 8, 210 - 8], paddingInner=0.3, paddingOuter=0.324)
dy = lin([0, 10], 848.7, 647.3)
dcol = alt.Color("g:N", scale=alt.Scale(domain=D_GROUPS, range=[NAVY, GREEN_D]), legend=None)
layers.append(alt.Chart(d_df).mark_bar(opacity=1).encode(
    x=alt.X("g:N", scale=dx, axis=alt.Axis(orient="bottom", offset=off_bottom(848.7), title=None, ticks=False, labelAngle=0,
            labelFontSize=14, labelPadding=7, grid=False, domainColor="black", domainWidth=2,
            labelColor=alt.expr("datum.value == 'HFD' ? '#27276f' : '#4f8b5f'"))),
    y=alt.Y("m:Q", scale=dy, axis=alt.Axis(orient="left", offset=off_left(75), values=[0, 2, 4, 6, 8, 10], title="Succinate relative content",
            titleFontSize=14, labelFontSize=14, tickSize=6, labelPadding=2, titlePadding=4, **AXK)),
    color=dcol))
layers.append(alt.Chart(d_df).mark_rule(strokeWidth=1.8).encode(
    x=alt.X("g:N", scale=dx, axis=None), y=alt.Y("m:Q", scale=dy, axis=None), y2="t:Q", color=dcol))
layers.append(alt.Chart(d_df).mark_tick(size=20, thickness=1.8).encode(
    x=alt.X("g:N", scale=dx, axis=None), y=alt.Y("t:Q", scale=dy, axis=None), color=dcol))
layers.append(text("***", 171, 678, 14, "#111"))

# ===== Panel e =====
ex = lin([-7, 128], 297.5, 550.8)
ey = lin([0, 30], 847.3, 665.7)
layers.append(alt.Chart(pd.DataFrame({"x": [0], "y": [0]})).mark_point(opacity=0).encode(
    x=alt.X("x:Q", scale=ex, axis=alt.Axis(orient="bottom", offset=off_bottom(847.3), values=[0, 15, 30, 45, 60, 75, 90, 105, 120],
            labelExpr="indexof([0,15,30,60,120],datum.value)>=0?datum.label:''", labelOverlap=False, title="Time (min)",
            titleFontSize=14, labelFontSize=13.5, tickSize=7, labelPadding=4, titlePadding=7, **AXK)),
    y=alt.Y("y:Q", scale=ey, axis=alt.Axis(orient="left", offset=off_left(297.5), values=[0, 10, 20, 30], title="Blood glucose (mmol/l)",
            titleFontSize=14, labelFontSize=13.5, tickSize=6, labelPadding=2, titlePadding=9, **AXK))))
series = [(E_CTRL, E_CTRL_ERR, NAVY, "square", 46), (E_SUCC, E_SUCC_ERR, GREEN_D, "triangle-up", 46)]
for vals, errs, col, shp, sz in series:
    df = pd.DataFrame({"t": E_T, "v": vals, "lo": [a - b for a, b in zip(vals, errs)], "hi": [a + b for a, b in zip(vals, errs)]})
    enc = dict(x=alt.X("t:Q", scale=ex, axis=None))
    layers.append(alt.Chart(df).mark_line(color=col, strokeWidth=2).encode(y=alt.Y("v:Q", scale=ey, axis=None), **enc))
    layers.append(alt.Chart(df).mark_rule(color=col, strokeWidth=1.6).encode(y=alt.Y("lo:Q", scale=ey, axis=None), y2="hi:Q", **enc))
    for k in ["lo", "hi"]:
        layers.append(alt.Chart(df).mark_tick(color=col, size=8, thickness=1.6, orient="horizontal").encode(
            y=alt.Y(f"{k}:Q", scale=ey, axis=None), **enc))
    layers.append(alt.Chart(df).mark_point(shape=shp, filled=True, color=col, size=sz, opacity=1).encode(
        y=alt.Y("v:Q", scale=ey, axis=None), **enc))
layers.append(alt.Chart(pd.DataFrame({"t": E_STAR_T, "y": E_STAR_Y})).mark_text(text="*", fontSize=14, font=FONT, color="#111", dy=3).encode(
    x=alt.X("t:Q", scale=ex, axis=None), y=alt.Y("y:Q", scale=ey, axis=None)))
for yv, col, shp, lab in [(28.2, NAVY, "square", "GF_Ctrl"), (25.4, GREEN_D, "triangle-up", "GF_Succinate")]:
    df = pd.DataFrame({"a": [53], "b": [61], "m": [57], "y": [yv], "tx": [64], "lab": [lab]})
    layers.append(alt.Chart(df).mark_rule(color=col, strokeWidth=2).encode(
        x=alt.X("a:Q", scale=ex, axis=None), x2="b:Q", y=alt.Y("y:Q", scale=ey, axis=None)))
    layers.append(alt.Chart(df).mark_point(shape=shp, filled=True, color=col, size=50, opacity=1).encode(
        x=alt.X("m:Q", scale=ex, axis=None), y=alt.Y("y:Q", scale=ey, axis=None)))
    layers.append(alt.Chart(df).mark_text(align="left", fontSize=14, font=FONT, color="#111").encode(
        x=alt.X("tx:Q", scale=ex, axis=None), y=alt.Y("y:Q", scale=ey, axis=None), text="lab:N"))

# ===== Panel f =====
f_df = pd.DataFrame({"g": F_GROUPS, "m": F_MEAN, "t": F_TOP})
fx = alt.Scale(type="band", domain=F_GROUPS, range=[654 - 8, 746 - 8], paddingInner=0.282, paddingOuter=0.32)
fy = lin([0, 2400], 847.3, 665.7)
fcol = alt.Color("g:N", scale=alt.Scale(domain=F_GROUPS, range=[NAVY, GREEN_D]), legend=None)
layers.append(alt.Chart(f_df).mark_bar(opacity=1).encode(
    x=alt.X("g:N", scale=fx, axis=alt.Axis(orient="bottom", offset=off_bottom(847.3), title=None, labelAngle=-40, labelFontSize=13,
            labelFontStyle="italic", tickSize=5, labelPadding=0, **AXK)),
    y=alt.Y("m:Q", scale=fy, axis=alt.Axis(orient="left", offset=off_left(654), values=[0, 800, 1600, 2400], format="d",
            title="AUC (mmol/l × min)", titleFontSize=14, labelFontSize=13.5, tickSize=6, labelPadding=2, titlePadding=10, **AXK)),
    color=fcol))
layers.append(alt.Chart(f_df).mark_rule(strokeWidth=1.6).encode(
    x=alt.X("g:N", scale=fx, axis=None), y=alt.Y("m:Q", scale=fy, axis=None), y2="t:Q", color=fcol))
layers.append(alt.Chart(f_df).mark_tick(size=14, thickness=1.6).encode(
    x=alt.X("g:N", scale=fx, axis=None), y=alt.Y("t:Q", scale=fy, axis=None), color=fcol))
layers.append(alt.Chart(pd.DataFrame({"g": ["GF_Succinate"], "y": [1918]})).mark_text(text="*", fontSize=14, font=FONT, color="#111", dy=3).encode(
    x=alt.X("g:N", scale=fx, axis=None), y=alt.Y("y:Q", scale=fy, axis=None)))

# ===== panel letters =====
for s, x, y in [("a", 8, 26), ("b", 409, 26), ("c", 8, 306), ("d", 8, 644), ("e", 236, 646), ("f", 566, 644)]:
    layers.append(text(s, x, y, 20, "black", "left", "bold", baseline="alphabetic"))

chart = alt.layer(*layers).resolve_scale(x="independent", y="independent", color="independent", stroke="independent", fill="independent").properties(
    width=W, height=H, padding=0, autosize=alt.AutoSizeParams(type="none", contains="padding")
).configure(font=FONT).configure_view(stroke=None).configure_axis(labelFont=FONT, titleFont=FONT)

chart.save("out.html", embed_options={"renderer": "svg", "actions": False})
